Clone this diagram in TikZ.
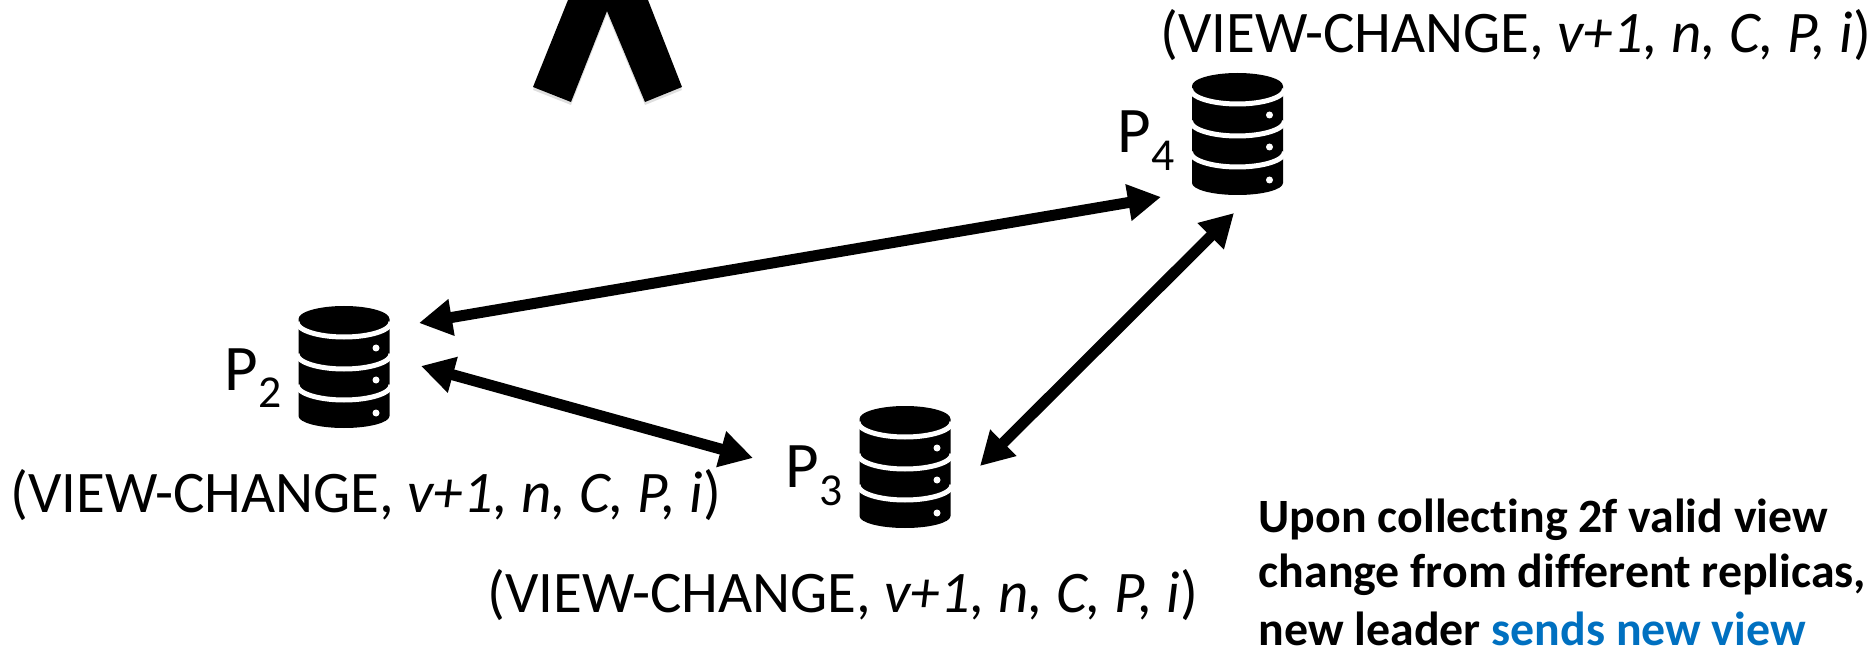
\documentclass[tikz,border=0pt]{standalone}
\usepackage{fontspec}
\setmainfont[Ligatures=NoCommon]{Carlito}
\usepackage{xcolor}
\usetikzlibrary{arrows.meta,shadows}
\definecolor{accent}{HTML}{0070C0}
\newcommand{\msgtext}{(VIEW-CHANGE, \textit{v+1, n, C, P, i})}
\newcommand{\replica}[1]{P\raisebox{-5pt}{\fontsize{13}{15}\selectfont #1}}
\tikzset{
  msg/.style={anchor=base west, inner sep=0pt, font=\fontsize{16.75}{20}\selectfont},
  replicaname/.style={anchor=base west, inner sep=0pt, font=\fontsize{18.5}{22}\selectfont},
  note/.style={anchor=base west, inner sep=0pt, font=\fontsize{13.6}{16}\selectfont\bfseries},
  dbbox/.style={inner sep=0pt, minimum width=0.91cm, minimum height=1.22cm},
  arrow/.style={{Triangle[length=0.33cm,width=0.35cm]}-{Triangle[length=0.33cm,width=0.35cm]}, line width=0.11cm, black},
  dbicon/.pic={
    \fill[black] (-45.5,48) arc[start angle=180, end angle=0, x radius=45.5, y radius=13]
      -- (45.5,-49) arc[start angle=0, end angle=-180, x radius=45.5, y radius=12] -- cycle;
    \foreach \ypos in {45,13,-18} {
      \draw[white, line width=0.05cm] (-47,\ypos) arc[start angle=180, end angle=360, x radius=47, y radius=15];
    }
    \foreach \ypos in {19,-13,-46} {
      \fill[white] (32,\ypos) circle (3.5);
    }
  },
}
\begin{document}
\begin{tikzpicture}[x=0.01cm,y=0.01cm]
  \useasboundingbox (0,0) rectangle (1875,648);
  % big arrow head from above
  \fill[black, drop shadow={shadow xshift=0cm, shadow yshift=-0.03cm, opacity=0.25}]
    (533,561) -- (571,546) -- (607,637) -- (645,546) -- (682,561) -- (648,648) -- (568,648) -- cycle;
  % replicas
  \node[dbbox] (p2) at (344,281) {};
  \node[dbbox] (p3) at (905,181) {};
  \node[dbbox] (p4) at (1237.5,514) {};
  \pic at (p2) {dbicon};
  \pic at (p3) {dbicon};
  \pic at (p4) {dbicon};
  \node[replicaname] (p2name) at (224,258) {\replica{2}};
  \node[replicaname] (p3name) at (785,160) {\replica{3}};
  \node[replicaname] (p4name) at (1117,495) {\replica{4}};
  % messages
  \node[msg] (msg2) at (10,136) {\msgtext};
  \node[msg] (msg3) at (487,36) {\msgtext};
  \node[msg] (msg4) at (1160,595) {\msgtext};
  % note
  \node[note] (note1) at (1258,116) {Upon collecting 2f valid view};
  \node[note] (note2) at (1258,61) {change from different replicas,};
  \node[note] (note3) at (1258,3) {new leader \textcolor{accent}{sends new view}};
  % arrows
  \coordinate (p2a) at (419,325);
  \coordinate (p2b) at (421,282);
  \coordinate (p3a) at (753,190);
  \coordinate (p3b) at (980,182);
  \coordinate (p4a) at (1161,451);
  \coordinate (p4b) at (1234,435);
  \draw[arrow] (p2a) -- (p4a);
  \draw[arrow] (p2b) -- (p3a);
  \draw[arrow] (p3b) -- (p4b);
\end{tikzpicture}
\end{document}
